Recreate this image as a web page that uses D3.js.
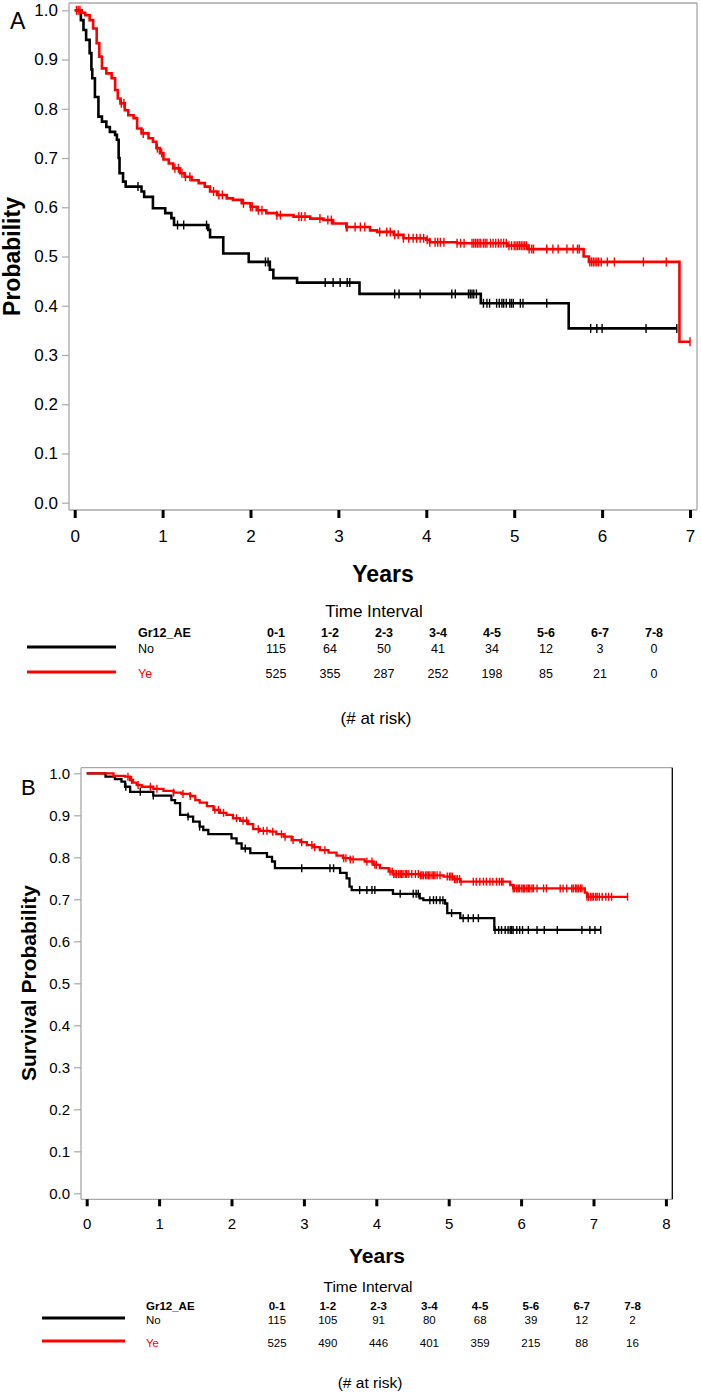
<!DOCTYPE html>
<html>
<head>
<meta charset="utf-8">
<script src="https://cdnjs.cloudflare.com/ajax/libs/d3/7.8.5/d3.min.js"></script>
<style>
  html, body { margin: 0; padding: 0; background: #fff; }
  svg { display: block; }
  text { font-family: "Liberation Sans", Arial, Helvetica, sans-serif; }
  .narrow { font-family: "Liberation Sans Narrow", "Arial Narrow", "Liberation Sans", Arial, sans-serif; }
</style>
</head>
<body>
<svg id="chart" width="701" height="1394"></svg>
<script>
// ---------------- DATA ----------------
const groups = ["No", "Ye"];
const groupLabel = "Gr12_AE";
const riskIntervals = ["0-1", "1-2", "2-3", "3-4", "4-5", "5-6", "6-7", "7-8"];
const riskA_No = [115, 64, 50, 41, 34, 12, 3, 0];
const riskA_Ye = [525, 355, 287, 252, 198, 85, 21, 0];
const riskB_No = [115, 105, 91, 80, 68, 39, 12, 2];
const riskB_Ye = [525, 490, 446, 401, 359, 215, 88, 16];

const yTickValues = [0, 0.1, 0.2, 0.3, 0.4, 0.5, 0.6, 0.7, 0.8, 0.9, 1.0];
const xTicksA = [0, 1, 2, 3, 4, 5, 6, 7];
const xTicksB = [0, 1, 2, 3, 4, 5, 6, 7, 8];

// Kaplan-Meier steps [time (years), survival]
const stepsA_No = [[0,1.0],[0.07,0.98],[0.10,0.96],[0.13,0.94],[0.17,0.913],[0.19,0.88],[0.20,0.862],[0.23,0.824],[0.27,0.784],[0.31,0.774],[0.36,0.763],[0.40,0.753],[0.46,0.747],[0.48,0.737],[0.50,0.70],[0.51,0.669],[0.55,0.652],[0.58,0.642],[0.76,0.632],[0.79,0.621],[0.89,0.598],[1.03,0.588],[1.10,0.578],[1.13,0.564],[1.52,0.554],[1.54,0.539],[1.69,0.506],[1.98,0.489],[2.22,0.473],[2.26,0.456],[2.53,0.447],[3.24,0.424],[4.62,0.405],[5.62,0.354],[6.85,0.354]];
const censorA_No = [0.72,1.17,1.24,1.50,2.17,2.20,2.85,2.94,3.02,3.10,3.13,3.64,3.69,3.93,4.29,4.33,4.48,4.50,4.52,4.54,4.57,4.65,4.69,4.72,4.80,4.83,4.86,4.88,4.91,4.95,4.97,4.99,5.07,5.10,5.37,5.87,5.94,6.00,6.50,6.85];

const stepsA_Ye = [[0,1.0],[0.08,0.995],[0.12,0.99],[0.17,0.98],[0.21,0.963],[0.25,0.933],[0.28,0.906],[0.31,0.882],[0.36,0.872],[0.42,0.862],[0.46,0.838],[0.49,0.821],[0.52,0.811],[0.57,0.797],[0.61,0.787],[0.67,0.781],[0.71,0.760],[0.76,0.750],[0.84,0.740],[0.89,0.733],[0.93,0.720],[0.97,0.710],[1.01,0.697],[1.07,0.689],[1.12,0.679],[1.20,0.669],[1.25,0.662],[1.33,0.655],[1.41,0.649],[1.48,0.642],[1.54,0.632],[1.62,0.625],[1.73,0.618],[1.80,0.615],[1.90,0.608],[2.00,0.601],[2.07,0.594],[2.18,0.588],[2.30,0.584],[2.49,0.581],[2.68,0.577],[2.83,0.574],[2.94,0.567],[3.09,0.560],[3.36,0.553],[3.44,0.550],[3.63,0.544],[3.74,0.537],[4.00,0.534],[4.04,0.529],[4.35,0.527],[4.92,0.522],[5.16,0.515],[5.79,0.500],[5.85,0.489],[6.88,0.327],[7.00,0.327]];
const censorA_Ye = [0.02,0.04,0.06,0.53,0.56,0.78,0.94,0.99,1.14,1.18,1.22,1.26,1.31,1.58,1.64,1.68,1.92,2.00,2.02,2.09,2.13,2.30,2.34,2.55,2.58,2.62,2.79,2.88,2.92,3.09,3.10,3.19,3.25,3.30,3.47,3.55,3.59,3.64,3.68,3.74,3.80,3.85,3.89,3.93,3.97,4.01,4.04,4.10,4.13,4.16,4.20,4.35,4.39,4.43,4.52,4.54,4.56,4.58,4.60,4.62,4.65,4.67,4.69,4.73,4.76,4.79,4.82,4.85,4.88,4.91,4.94,4.97,5.00,5.02,5.04,5.06,5.08,5.10,5.12,5.14,5.17,5.20,5.22,5.37,5.44,5.50,5.60,5.67,5.72,5.74,5.86,5.88,5.90,5.92,5.94,5.96,5.99,6.06,6.14,6.47,6.73,7.00];

const stepsB_No = [[0,1.0],[0.26,0.992],[0.39,0.986],[0.48,0.980],[0.53,0.968],[0.60,0.956],[0.92,0.947],[1.17,0.936],[1.22,0.929],[1.29,0.901],[1.40,0.897],[1.47,0.885],[1.56,0.873],[1.61,0.865],[1.68,0.855],[2.00,0.845],[2.07,0.833],[2.14,0.821],[2.26,0.810],[2.49,0.801],[2.56,0.790],[2.60,0.774],[3.50,0.763],[3.59,0.750],[3.63,0.730],[3.66,0.722],[4.23,0.713],[4.60,0.702],[4.65,0.698],[4.95,0.690],[4.98,0.667],[5.16,0.655],[5.63,0.627],[7.10,0.627]];
const censorB_No = [0.54,0.74,0.92,1.40,1.56,2.19,2.97,3.36,3.41,3.77,3.87,3.94,3.98,4.33,4.51,4.55,4.58,4.74,4.79,4.83,4.88,4.92,5.04,5.20,5.27,5.34,5.41,5.64,5.69,5.73,5.78,5.82,5.85,5.87,5.89,5.94,5.98,6.02,6.10,6.22,6.32,6.50,6.84,6.95,7.02,7.10];

const stepsB_Ye = [[0,1.0],[0.37,0.994],[0.53,0.992],[0.60,0.984],[0.64,0.978],[0.69,0.972],[0.76,0.968],[0.92,0.963],[1.06,0.958],[1.20,0.954],[1.31,0.951],[1.43,0.946],[1.50,0.936],[1.56,0.930],[1.66,0.922],[1.75,0.913],[1.84,0.906],[1.93,0.901],[2.02,0.893],[2.12,0.887],[2.23,0.879],[2.30,0.867],[2.39,0.863],[2.53,0.861],[2.62,0.855],[2.72,0.849],[2.83,0.841],[2.95,0.836],[3.04,0.829],[3.13,0.824],[3.22,0.817],[3.34,0.811],[3.45,0.804],[3.54,0.798],[3.64,0.795],[3.84,0.790],[3.96,0.782],[4.05,0.774],[4.17,0.766],[4.23,0.760],[4.60,0.757],[4.93,0.754],[5.06,0.748],[5.16,0.742],[5.85,0.734],[5.89,0.726],[6.88,0.716],[6.91,0.706],[7.47,0.706]];
const censorB_Ye = [0.57,0.62,0.71,0.88,0.97,1.20,1.33,1.43,1.77,1.82,1.89,2.07,2.16,2.21,2.37,2.44,2.49,2.57,2.69,2.74,2.85,2.97,3.11,3.15,3.29,3.55,3.58,3.64,3.68,3.87,3.94,3.98,4.00,4.19,4.22,4.24,4.26,4.28,4.31,4.33,4.35,4.37,4.40,4.42,4.45,4.49,4.54,4.58,4.61,4.63,4.65,4.68,4.70,4.72,4.74,4.77,4.79,4.81,4.84,4.88,4.98,5.01,5.03,5.05,5.08,5.10,5.12,5.15,5.17,5.34,5.38,5.43,5.48,5.52,5.57,5.61,5.66,5.70,5.73,5.75,5.89,5.91,5.94,5.96,5.98,6.01,6.03,6.05,6.08,6.10,6.12,6.15,6.17,6.22,6.31,6.35,6.54,6.58,6.63,6.70,6.72,6.75,6.77,6.79,6.82,6.84,6.91,6.93,6.96,6.98,7.00,7.03,7.05,7.08,7.12,7.17,7.21,7.25,7.47];

// ---------------- DRAW ----------------
const svg = d3.select("#chart");
const colors = { No: "#000000", Ye: "#ff0000" };
const frameGray = "#a8a8a8";

function survAt(steps, t) {
  let p = steps[0][1];
  for (const s of steps) { if (s[0] <= t + 1e-9) p = s[1]; else break; }
  return p;
}

function drawPanel(cfg) {
  const g = svg.append("g");
  const x = d3.scaleLinear().domain([cfg.xTicks[0], cfg.xTicks[cfg.xTicks.length - 1]]).range(cfg.xRange);
  const y = d3.scaleLinear().domain([0, 1]).range(cfg.yRange);

  // frame
  const f = cfg.frame;
  g.append("line").attr("x1", f.x0).attr("x2", f.x1).attr("y1", f.y0).attr("y2", f.y0).attr("stroke", frameGray).attr("stroke-width", 1.3);
  g.append("line").attr("x1", f.x0).attr("x2", f.x0).attr("y1", f.y0).attr("y2", f.y1).attr("stroke", frameGray).attr("stroke-width", 1.3);
  g.append("line").attr("x1", f.x0).attr("x2", f.x1).attr("y1", f.y1).attr("y2", f.y1).attr("stroke", frameGray).attr("stroke-width", 1.3);
  g.append("line").attr("x1", f.x1).attr("x2", f.x1).attr("y1", f.y0).attr("y2", f.y1).attr("stroke", cfg.rightColor).attr("stroke-width", 1.3);

  // y axis
  const yAxis = d3.axisLeft(y).tickValues(yTickValues).tickFormat(d3.format(".1f")).tickSize(7).tickPadding(4);
  const ya = g.append("g").attr("transform", `translate(${f.x0},0)`).call(yAxis);
  ya.select(".domain").remove();
  ya.selectAll(".tick line").attr("stroke", frameGray).attr("stroke-width", 1.2);
  ya.selectAll(".tick text").attr("font-size", cfg.tickFont).attr("fill", "#000")
    .attr("font-family", "Liberation Sans, Arial, sans-serif");

  // x axis
  const xAxis = d3.axisBottom(x).tickValues(cfg.xTicks).tickFormat(d3.format("d")).tickSize(cfg.xTickLen).tickPadding(cfg.xTickPad);
  const xa = g.append("g").attr("transform", `translate(0,${f.y1})`).call(xAxis);
  xa.select(".domain").remove();
  xa.selectAll(".tick line").attr("stroke", "#000").attr("stroke-width", 3);
  xa.selectAll(".tick text").attr("font-size", cfg.tickFont).attr("fill", "#000")
    .attr("font-family", "Liberation Sans, Arial, sans-serif");

  // curves
  const line = d3.line().x(d => x(d[0])).y(d => y(d[1])).curve(d3.curveStepAfter);
  cfg.series.forEach(s => {
    g.append("path").datum(s.steps).attr("d", line).attr("fill", "none")
      .attr("stroke", colors[s.name]).attr("stroke-width", cfg.curveWidth).attr("stroke-linejoin", "miter");
    g.selectAll(null).data(s.censor).enter().append("line")
      .attr("x1", d => x(d)).attr("x2", d => x(d))
      .attr("y1", d => y(survAt(s.steps, d)) - cfg.censorH / 2)
      .attr("y2", d => y(survAt(s.steps, d)) + cfg.censorH / 2)
      .attr("stroke", colors[s.name]).attr("stroke-width", 1.4);
  });

  // panel letter
  g.append("text").attr("x", cfg.letterPos[0]).attr("y", cfg.letterPos[1]).attr("font-size", cfg.letterFont).text(cfg.letter);

  // y title
  g.append("text").attr("transform", `translate(${cfg.yTitlePos[0]},${cfg.yTitlePos[1]}) rotate(-90)`)
    .attr("text-anchor", "middle").attr("font-weight", "bold").attr("font-size", cfg.titleFont).text(cfg.yTitle);

  // x title
  g.append("text").attr("x", cfg.xTitlePos[0]).attr("y", cfg.xTitlePos[1]).attr("text-anchor", "middle")
    .attr("font-weight", "bold").attr("font-size", cfg.titleFont).text("Years");

  // risk table
  const t = cfg.table;
  g.append("text").attr("x", t.tiPos[0]).attr("y", t.tiPos[1]).attr("text-anchor", "middle")
    .attr("font-size", t.bigFont).text("Time Interval");
  const col = d3.scalePoint().domain(riskIntervals).range(t.colRange);
  g.append("text").attr("class", "narrow").attr("x", t.labelX).attr("y", t.headerY).attr("font-weight", "bold")
    .attr("font-size", t.smallFont).text(groupLabel);
  g.selectAll(null).data(riskIntervals).enter().append("text").attr("class", "narrow")
    .attr("x", d => col(d)).attr("y", t.headerY).attr("text-anchor", "middle")
    .attr("font-weight", "bold").attr("font-size", t.smallFont).text(d => d);
  t.rows.forEach((r, i) => {
    g.append("line").attr("x1", t.legendX[0]).attr("x2", t.legendX[1]).attr("y1", r.lineY).attr("y2", r.lineY)
      .attr("stroke", colors[r.name]).attr("stroke-width", 3);
    g.append("text").attr("class", "narrow").attr("x", t.labelX).attr("y", r.textY).attr("font-size", t.smallFont)
      .attr("fill", colors[r.name]).text(r.name);
    g.selectAll(null).data(r.values).enter().append("text").attr("class", "narrow")
      .attr("x", (d, j) => col(riskIntervals[j])).attr("y", r.textY).attr("text-anchor", "middle")
      .attr("font-size", t.smallFont).text(d => d);
  });
  g.append("text").attr("x", t.riskPos[0]).attr("y", t.riskPos[1]).attr("text-anchor", "middle")
    .attr("font-size", t.bigFont).text("(# at risk)");
}

drawPanel({
  letter: "A", letterPos: [10, 29], letterFont: 23,
  frame: { x0: 69, x1: 697, y0: 3, y1: 510 }, rightColor: frameGray,
  xTicks: xTicksA, xRange: [74.7, 690], yRange: [502.7, 10.3],
  xTickLen: 8, xTickPad: 12, tickFont: 17,
  curveWidth: 2.6, censorH: 9,
  yTitle: "Probability", yTitlePos: [20, 256.5], xTitlePos: [383, 582], titleFont: 23,
  series: [
    { name: "No", steps: stepsA_No, censor: censorA_No },
    { name: "Ye", steps: stepsA_Ye, censor: censorA_Ye }
  ],
  table: {
    tiPos: [374, 617], bigFont: 17, smallFont: 12.5,
    labelX: 138, headerY: 637, colRange: [276, 654], legendX: [27, 116],
    rows: [
      { name: "No", values: riskA_No, textY: 653, lineY: 647 },
      { name: "Ye", values: riskA_Ye, textY: 678, lineY: 672 }
    ],
    riskPos: [376, 724]
  }
});

drawPanel({
  letter: "B", letterPos: [21, 795], letterFont: 22,
  frame: { x0: 81, x1: 672.3, y0: 767.7, y1: 1199.3 }, rightColor: "#000",
  xTicks: xTicksB, xRange: [86.7, 665.9], yRange: [1193.3, 773.3],
  xTickLen: 7, xTickPad: 12, tickFont: 15,
  curveWidth: 2.3, censorH: 8,
  yTitle: "Survival Probability", yTitlePos: [36, 983], xTitlePos: [377, 1263], titleFont: 21,
  series: [
    { name: "No", steps: stepsB_No, censor: censorB_No },
    { name: "Ye", steps: stepsB_Ye, censor: censorB_Ye }
  ],
  table: {
    tiPos: [368, 1292], bigFont: 15.5, smallFont: 11.5,
    labelX: 146, headerY: 1310, colRange: [277, 632.5], legendX: [42, 125],
    rows: [
      { name: "No", values: riskB_No, textY: 1324, lineY: 1318 },
      { name: "Ye", values: riskB_Ye, textY: 1347, lineY: 1341 }
    ],
    riskPos: [370, 1388]
  }
});
</script>
</body>
</html>
